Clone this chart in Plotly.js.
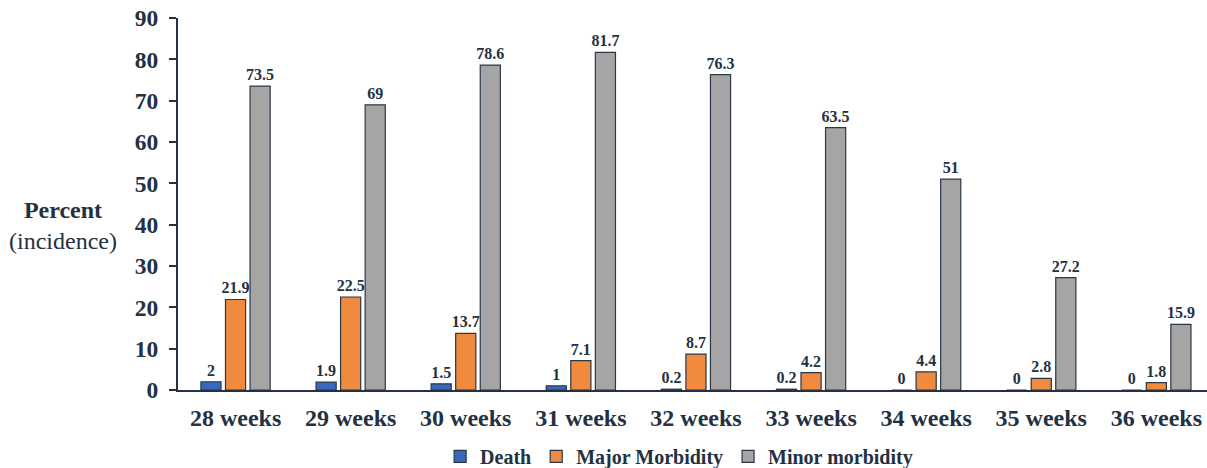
<!DOCTYPE html>
<html><head><meta charset="utf-8">
<script src="https://cdn.plot.ly/plotly-3.0.1.min.js"></script>
<style>html,body{margin:0;padding:0;background:#fff}#c{width:1207px;height:468px}</style>
</head><body><div id="c"></div>
<script>
const categories = ["28 weeks","29 weeks","30 weeks","31 weeks","32 weeks","33 weeks","34 weeks","35 weeks","36 weeks"];
const death = [2, 1.9, 1.5, 1, 0.2, 0.2, 0, 0, 0];
const major = [21.9, 22.5, 13.7, 7.1, 8.7, 4.2, 4.4, 2.8, 1.8];
const minor = [73.5, 69, 78.6, 81.7, 76.3, 63.5, 51, 27.2, 15.9];
const seriesNames = ["Death", "Major Morbidity", "Minor morbidity"];
const colors = ["#3867BD", "#F08A3E", "#A5A5A5"];
const ink = "#233142";
const FAM = "Liberation Serif";

const mk = (y, i) => ({
  type: "bar", x: categories, y: y, name: "<b>" + seriesNames[i] + "</b>",
  marker: {color: colors[i], line: {color: "#2A3848", width: 1.2}},
  text: y.map(v => "<b>" + v + "</b>"), textposition: "outside", cliponaxis: false, constraintext: "none",
  textfont: {family: FAM, size: 16, color: ink},
  hoverinfo: "skip"
});
const data = [mk(death,0), mk(major,1), mk(minor,2)];

const layout = {
  width: 1207, height: 468,
  margin: {l: 178, r: 0, t: 18, b: 78, autoexpand: false},
  paper_bgcolor: "#fff", plot_bgcolor: "#fff",
  barmode: "group", bargap: 0.36, bargroupgap: 0.18,
  showlegend: true,
  legend: {orientation: "h", x: 0.487, xanchor: "center", yref: "container", y: 0.025, yanchor: "middle",
    font: {family: FAM, size: 20, color: ink}, traceorder: "normal", itemwidth: 30},
  xaxis: {range: [-0.5, 8.44], showline: true, linecolor: ink, linewidth: 2, ticks: "",
    tickvals: categories, ticktext: categories.map(c => "<b>" + c + "</b>"),
    tickfont: {family: FAM, size: 24, color: ink}, showgrid: false, zeroline: false, ticklabelstandoff: 5},
  yaxis: {range: [0, 90], dtick: 10, showline: true, linecolor: ink, linewidth: 2, ticks: "outside",
    ticklen: 7, tickcolor: ink, tickwidth: 2, showgrid: false, zeroline: false,
    tickprefix: "<b>", ticksuffix: "</b>", ticklabelstandoff: 6,
    tickfont: {family: FAM, size: 23.5, color: ink}},
  annotations: [{
    xref: "paper", yref: "paper", x: -0.112, y: 0.4435, xanchor: "center", yanchor: "middle", showarrow: false,
    text: "<b>Percent</b><br>(incidence)", align: "center",
    font: {family: FAM, size: 24, color: ink}
  }]
};
Plotly.newPlot("c", data, layout, {displayModeBar: false});
</script>
</body></html>
